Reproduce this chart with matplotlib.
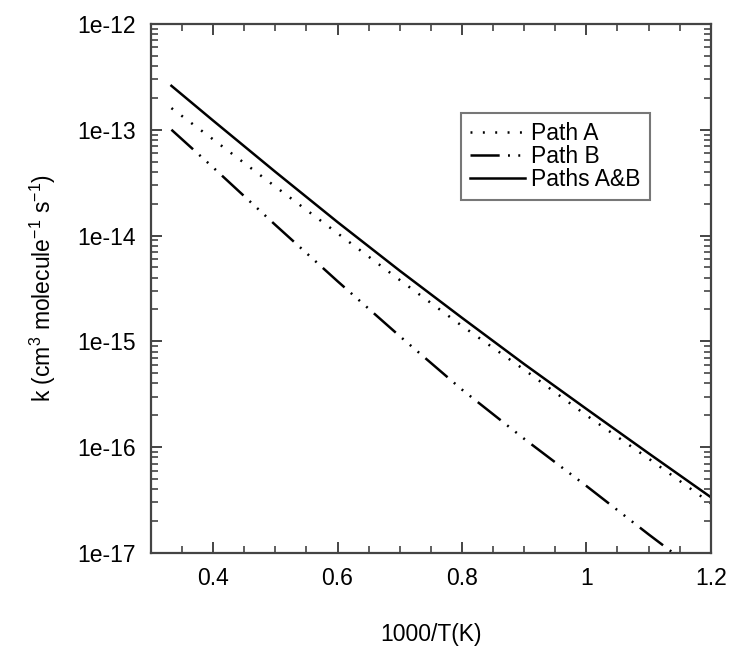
import matplotlib
matplotlib.use("Agg")
import matplotlib.pyplot as plt
from matplotlib.ticker import LogLocator, MultipleLocator, FixedLocator
import numpy as np

plt.rcParams['font.family'] = ['Liberation Sans', 'DejaVu Sans']
plt.rcParams['mathtext.default'] = 'regular'
plt.rcParams['lines.scale_dashes'] = False

# rate constants vs 1000/T
inv_T = [0.333, 0.4, 0.5, 0.6, 0.7, 0.8, 0.9, 1.0, 1.1, 1.2]
k_path_a = [1.60e-13, 8.1e-14, 2.9e-14, 1.05e-14, 3.8e-15, 1.4e-15, 5.4e-16, 2.0e-16, 7.8e-17, 2.95e-17]
k_path_b = [1.00e-13, 4.4e-14, 1.26e-14, 3.7e-15, 1.12e-15, 3.5e-16, 1.2e-16, 4.3e-17, 1.5e-17, 5.4e-18]
k_total = [2.60e-13, 1.22e-13, 4.0e-14, 1.34e-14, 4.65e-15, 1.67e-15, 6.1e-16, 2.3e-16, 8.75e-17, 3.37e-17]

fs = 16.5

fig = plt.figure(figsize=(7.29, 6.46), dpi=100)
ax = fig.add_axes([0.207, 0.144, 0.768, 0.819])

lw = 1.8
ax.plot(inv_T, k_path_a, color='black', lw=lw, dashes=[1.4, 7.5], label='Path A')
ax.plot(inv_T, k_path_b, color='black', lw=lw,
        dashes=[21, 6.0, 1.4, 6.0, 1.4, 6.0, 1.4, 6.0], label='Path B')
ax.plot(inv_T, k_total, color='black', lw=lw, label='Paths A&B')

ax.set_yscale('log')
ax.set_xlim(0.3, 1.2)
ax.set_ylim(1e-17, 1e-12)

ax.xaxis.set_major_locator(FixedLocator([0.4, 0.6, 0.8, 1.0, 1.2]))
ax.xaxis.set_minor_locator(MultipleLocator(0.05))
ax.set_xticklabels(['0.4', '0.6', '0.8', '1', '1.2'])

yt = [1e-17, 1e-16, 1e-15, 1e-14, 1e-13, 1e-12]
ax.set_yticks(yt)
ax.set_yticklabels(['1e-17', '1e-16', '1e-15', '1e-14', '1e-13', '1e-12'])
ax.yaxis.set_minor_locator(LogLocator(base=10, subs=np.arange(2, 10), numticks=10))

spine_col = '#444444'
for s in ax.spines.values():
    s.set_color(spine_col)
    s.set_linewidth(1.6)

ax.tick_params(which='both', direction='in', top=True, right=True,
               colors=spine_col, labelcolor='black', labelsize=fs)
ax.tick_params(which='major', length=8, width=1.4)
ax.tick_params(which='minor', length=5, width=1.2)
ax.tick_params(axis='x', which='major', pad=10)
ax.tick_params(axis='y', which='major', pad=11)

ax.set_xlabel('1000/T(K)', fontsize=fs, labelpad=24)
ax.set_ylabel('k (cm$^{3}$ molecule$^{-1}$ s$^{-1}$)', fontsize=fs, labelpad=14)

leg = ax.legend(loc='upper left', bbox_to_anchor=(0.554, 0.832), fontsize=fs,
                handlelength=2.4, handletextpad=0.26, labelspacing=0.0,
                borderpad=0.4, borderaxespad=0, fancybox=False, framealpha=1)
leg.get_frame().set_edgecolor('#777777')
leg.get_frame().set_linewidth(1.5)

fig.savefig('out.png', dpi=100)
